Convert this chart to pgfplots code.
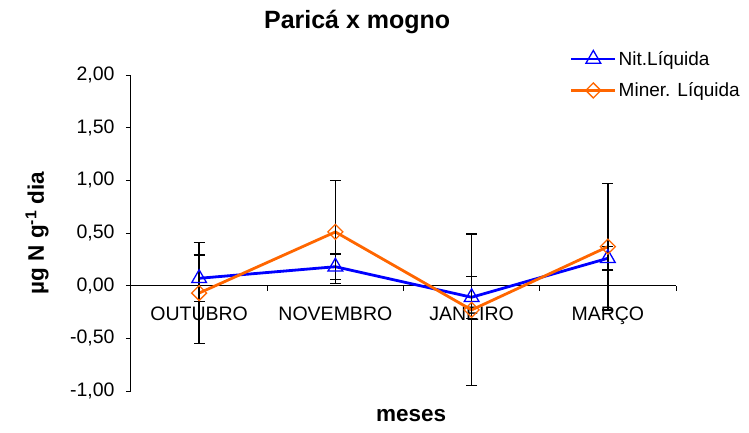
\documentclass[border=0pt]{standalone}
\usepackage{pgfplots}
\pgfplotsset{compat=1.18}
\usepackage{pgfplotstable}
\usepackage{fontspec}
\setmainfont{Liberation Sans}

\definecolor{nitblue}{RGB}{0,0,255}
\definecolor{minorange}{RGB}{255,102,0}

% month, Nit.Liquida, error, Miner. Liquida, error
\pgfplotstableread{
x  nit    enit  min    emin
0  0.07   0.22  -0.07  0.48
1  0.18   0.12  0.51   0.49
2  -0.11  0.20  -0.23  0.72
3  0.26   0.11  0.37   0.60
}\parica

\begin{document}
\begin{tikzpicture}
\begin{axis}[
    scale only axis,
    width=545pt, height=316pt,
    xmin=-0.5, xmax=3.5,
    ymin=-1, ymax=2,
    axis x line=middle,
    axis y line=left,
    axis line style={black, line width=1pt, -},
    hide obscured x ticks=false,
    xtick={-0.5,0.5,1.5,2.5,3.5},
    xticklabels={},
    extra x ticks={0,1,2,3},
    extra x tick labels={OUTUBRO,NOVEMBRO,JANEIRO,MARÇO},
    extra x tick style={major tick length=0pt,
        tick label style={yshift=-18pt}},
    ytick={-1,-0.5,0,0.5,1,1.5,2},
    tick align=outside,
    major tick length=5pt,
    tick style={black, line width=1pt},
    yticklabel style={xshift=-8pt},
    /pgf/number format/.cd, fixed, fixed zerofill, precision=2, use comma,
    assume math mode=true,
    /pgfplots/.cd,
    tick label style={font=\fontsize{19.5}{23}\selectfont},
    legend style={draw=none, fill=none, inner sep=0pt, row sep=12pt,
        font=\fontsize{19}{23}\selectfont,
        at={(rel axis cs:0.805,1)}, anchor=north west, yshift=26pt},
    legend cell align=left,
    legend image code/.code={
        \draw[mark repeat=2, mark phase=2] plot coordinates {(0pt,0pt) (22pt,0pt) (44pt,0pt)};
    },
    clip=false,
]
\addplot[color=nitblue, line width=2.8pt, mark=triangle,
    mark size=8.5pt,
    mark options={solid, fill=white, draw=nitblue, line width=1.3pt},
    error bars/.cd, y dir=both, y explicit,
    error bar style={black, line width=1.3pt},
    error mark options={rotate=90, mark size=5.5pt, black, line width=1.3pt}]
    table[x=x, y=nit, y error=enit] {\parica};
\addlegendentry{Nit.Líquida}
\addplot[color=minorange, line width=2.8pt, mark=square,
    mark size=5.3pt,
    mark options={solid, rotate=45, fill=white, draw=minorange, line width=1.3pt},
    error bars/.cd, y dir=both, y explicit,
    error bar style={black, line width=1.3pt},
    error mark options={rotate=90, mark size=5.5pt, black, line width=1.3pt}]
    table[x=x, y=min, y error=emin] {\parica};
\addlegendentry{Miner. Líquida}

\node[font=\fontsize{25}{30}\selectfont\bfseries] at ([yshift=53pt]rel axis cs:0.415,1) {Paricá x mogno};
\node[font=\fontsize{22.5}{27}\selectfont\bfseries] at ([yshift=-25pt]rel axis cs:0.514,0) {meses};
\node[font=\fontsize{22.5}{27}\selectfont\bfseries, rotate=90] at ([xshift=-94pt]rel axis cs:0,0.5) {µg N g\textsuperscript{-1} dia};
\end{axis}
\pgfresetboundingbox
\useasboundingbox (-131pt,-41pt) rectangle (618pt,391pt);
\end{tikzpicture}
\end{document}
